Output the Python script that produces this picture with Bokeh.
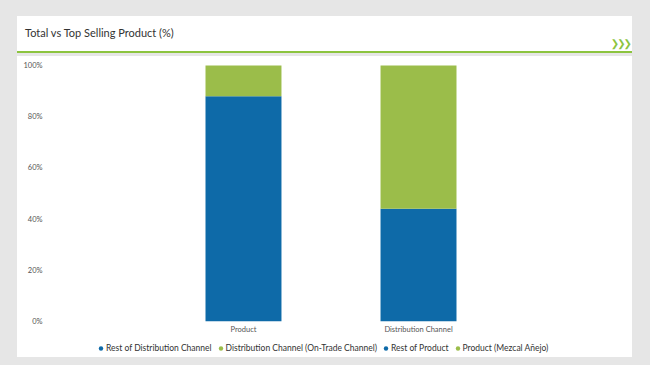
from bokeh.plotting import figure
from bokeh.layouts import column
from bokeh.models import (ColumnDataSource, Div, Legend, LegendItem, FixedTicker, Range1d)
from bokeh.embed import file_html
from bokeh.resources import INLINE

# ---- data ----
categories = ["Product", "Distribution Channel"]
rest_values = [88, 44]        # Rest of Product / Rest of Distribution Channel
top_values = [12, 56]         # Product (Mezcal Añejo) / Distribution Channel (On-Trade Channel)
legend_labels = ["Rest of Distribution Channel", "Distribution Channel (On-Trade Channel)",
                 "Rest of Product", "Product (Mezcal Añejo)"]
legend_is_top = [False, True, False, True]
y_ticks = [0, 20, 40, 60, 80, 100]
title_text = "Total vs Top Selling Product (%)"

BLUE = "#0e6aa8"
GREEN = "#9bbd4a"
LINE_GREEN = "#8cc43f"
GRAY_BG = "#e6e6e6"
FONT = "Lato"

# ---- header ----
hdr = Div(text=(f'<div style="position:relative;width:615px;height:37px;background:white;'
                f'box-sizing:border-box;border-bottom:2px solid {LINE_GREEN};">'
                f'<span style="position:absolute;left:8px;top:9px;font-family:{FONT};'
                f'font-size:11px;color:#333333;white-space:nowrap;">{title_text}</span>'
                f'<span style="position:absolute;right:2px;top:21px;font-family:DejaVu Sans;'
                f'font-size:10px;font-weight:bold;letter-spacing:-2px;color:{LINE_GREEN};">'
                f'❯❯❯</span></div>'),
          width=615, height=37, margin=(16, 18, 0, 17))

# ---- chart ----
xs = list(range(len(categories)))
src = ColumnDataSource(dict(x=xs, rest=rest_values, top=top_values,
                            total=[r + t for r, t in zip(rest_values, top_values)]))

p = figure(width=615, height=280, output_backend="svg", toolbar_location=None,
           x_range=Range1d(-1.114, 2.154), y_range=Range1d(0, 102.72),
           min_border_left=31, min_border_right=12, min_border_top=2, min_border_bottom=14,
           margin=(3, 18, 0, 17), styles={"background-color": "white"})
p.border_fill_color = None
p.background_fill_color = None
p.outline_line_color = None
p.grid.visible = False

p.vbar(x="x", bottom=0, top="rest", width=0.434, source=src, fill_color=BLUE, line_color=None)
p.vbar(x="x", bottom="rest", top="total", width=0.434, source=src, fill_color=GREEN,
       line_color=None)

p.xaxis.ticker = FixedTicker(ticks=xs)
p.xaxis.major_label_overrides = {i: c for i, c in enumerate(categories)}
p.yaxis.ticker = FixedTicker(ticks=y_ticks)
p.yaxis.major_label_overrides = {t: f"{t}%" for t in y_ticks}
for ax in (p.xaxis, p.yaxis):
    ax.axis_line_color = None
    ax.major_tick_line_color = None
    ax.minor_tick_line_color = None
    ax.major_tick_out = 0
    ax.major_tick_in = 0
    ax.minor_tick_out = 0
    ax.minor_tick_in = 0
    ax.major_label_text_font = FONT
    ax.major_label_text_font_size = "7.5px"
    ax.major_label_text_color = "#555555"
p.xaxis.major_label_standoff = 3
p.yaxis.major_label_standoff = 6

# ---- legend strip ----
lg = figure(width=615, height=21, output_backend="svg", toolbar_location=None,
            x_range=Range1d(0, 1), y_range=Range1d(0, 1), x_axis_type=None, y_axis_type=None,
            min_border=0, margin=(0, 18, 8, 17), styles={"background-color": "white"})
lg.outline_line_color = None
lg.grid.visible = False
lg.background_fill_color = None
lg.border_fill_color = None
items = []
for lab, is_top in zip(legend_labels, legend_is_top):
    r = lg.scatter(x=[-5], y=[-5], marker="circle", size=5,
                   fill_color=GREEN if is_top else BLUE, line_color=None)
    items.append(LegendItem(label=lab, renderers=[r]))
legend = Legend(items=items, orientation="horizontal", location=(47, 3),
                label_text_font=FONT, label_text_font_size="8.5px", label_text_color="#333333",
                glyph_width=11, glyph_height=12, label_standoff=0, spacing=3,
                label_height=12, padding=2, margin=0, border_line_color=None,
                background_fill_alpha=0)
lg.add_layout(legend, "center")

layout = column(hdr, p, lg, spacing=0, styles={"background-color": GRAY_BG})

open("out.html", "w").write(file_html(layout, INLINE))
